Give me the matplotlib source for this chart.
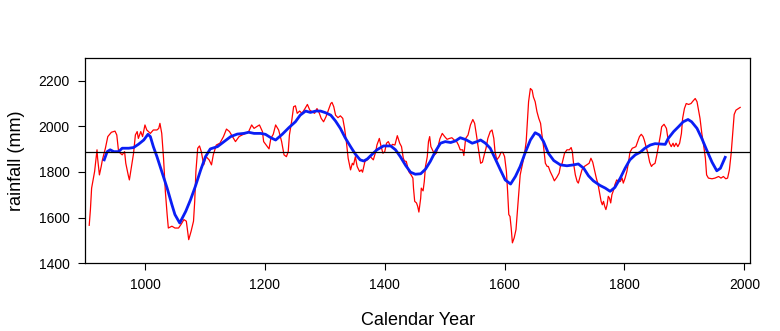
import matplotlib.pyplot as plt

plt.rcParams['font.family'] = ['Liberation Sans', 'DejaVu Sans']

# reconstructed rainfall, short smoothing (red)
raw_years = [907, 909, 911, 916, 920, 921, 924, 927, 929, 934, 938, 944, 950, 953, 956,
             962, 966, 968, 972, 974, 977, 981, 984, 987, 989, 993, 996, 1000, 1003, 1009,
             1014, 1020, 1023, 1025, 1028, 1031, 1034, 1037, 1039, 1045, 1050, 1056, 1060,
             1065, 1069, 1073, 1077, 1081, 1083, 1085, 1088, 1091, 1094, 1098, 1102, 1107,
             1111, 1114, 1119, 1125, 1131, 1136, 1141, 1146, 1151, 1157, 1162, 1168, 1173,
             1178, 1182, 1186, 1191, 1196, 1198, 1203, 1207, 1210, 1214, 1218, 1223, 1228,
             1232, 1236, 1239, 1241, 1245, 1248, 1251, 1254, 1258, 1262, 1267, 1271, 1275,
             1279, 1283, 1287, 1291, 1294, 1298, 1302, 1306, 1310, 1312, 1315, 1318, 1322,
             1326, 1330, 1333, 1336, 1339, 1343, 1346, 1348, 1351, 1354, 1358, 1361, 1363,
             1367, 1371, 1376, 1381, 1385, 1387, 1391, 1394, 1397, 1400, 1403, 1406, 1410,
             1413, 1417, 1421, 1425, 1428, 1431, 1433, 1436, 1440, 1444, 1447, 1448, 1450,
             1453, 1455, 1457, 1460, 1461, 1464, 1466, 1468, 1471, 1473, 1475, 1477, 1481,
             1483, 1486, 1489, 1492, 1496, 1500, 1504, 1508, 1512, 1516, 1520, 1523, 1526,
             1530, 1532, 1535, 1539, 1543, 1547, 1550, 1553, 1557, 1560, 1563, 1566, 1569,
             1572, 1576, 1579, 1582, 1584, 1587, 1591, 1594, 1597, 1600, 1603, 1605, 1607,
             1609, 1611, 1613, 1616, 1619, 1621, 1623, 1626, 1630, 1633, 1636, 1638, 1640,
             1643, 1646, 1648, 1651, 1654, 1657, 1660, 1662, 1665, 1668, 1671, 1673, 1676,
             1680, 1683, 1687, 1691, 1693, 1696, 1700, 1704, 1708, 1711, 1713, 1715, 1718,
             1721, 1723, 1726, 1729, 1733, 1737, 1741, 1744, 1747, 1750, 1753, 1756, 1758,
             1761, 1763, 1765, 1767, 1769, 1771, 1773, 1775, 1777, 1779, 1782, 1784, 1787,
             1790, 1793, 1796, 1798, 1801, 1804, 1807, 1809, 1813, 1816, 1819, 1822, 1825,
             1828, 1831, 1833, 1836, 1839, 1842, 1845, 1847, 1851, 1854, 1857, 1860, 1862,
             1866, 1870, 1872, 1875, 1878, 1881, 1883, 1886, 1889, 1892, 1895, 1897, 1900,
             1903, 1907, 1911, 1914, 1918, 1921, 1923, 1926, 1929, 1932, 1935, 1937, 1940,
             1946, 1951, 1957, 1961, 1965, 1969, 1972, 1975, 1978, 1981, 1983, 1986, 1990,
             1993]
raw_mm = [1566, 1635, 1729, 1802, 1897, 1860, 1787, 1824, 1853, 1904, 1955, 1974, 1979, 1962,
          1889, 1875, 1889, 1838, 1787, 1765, 1816, 1882, 1962, 1977, 1947, 1977, 1955, 2006,
          1984, 1969, 1984, 1984, 1991, 2013, 1969, 1860, 1715, 1613, 1554, 1562, 1554, 1554,
          1569, 1591, 1584, 1503, 1540, 1584, 1671, 1802, 1904, 1914, 1889, 1831, 1867, 1853,
          1831, 1875, 1918, 1926, 1955, 1988, 1977, 1955, 1933, 1955, 1962, 1969, 1977, 2006,
          1991, 1998, 2006, 1977, 1933, 1915, 1901, 1947, 1965, 2006, 1984, 1933, 1875, 1867,
          1889, 1962, 2027, 2086, 2090, 2057, 2067, 2057, 2078, 2096, 2071, 2064, 2057, 2078,
          2057, 2035, 2020, 2042, 2071, 2100, 2105, 2086, 2049, 2038, 2046, 2035, 1991, 1933,
          1860, 1809, 1838, 1831, 1867, 1824, 1802, 1809, 1799, 1846, 1853, 1867, 1853, 1889,
          1918, 1947, 1911, 1882, 1889, 1926, 1933, 1911, 1921, 1918, 1959, 1926, 1911, 1860,
          1848, 1846, 1802, 1787, 1773, 1729, 1671, 1664, 1649, 1624, 1685, 1729, 1717, 1758,
          1824, 1867, 1933, 1955, 1911, 1889, 1875, 1882, 1911, 1945, 1969, 1955, 1943, 1947,
          1950, 1940, 1933, 1918, 1897, 1897, 1872, 1947, 1962, 2006, 2030, 2013, 1962, 1889,
          1838, 1843, 1875, 1904, 1947, 1977, 1984, 1947, 1889, 1853, 1867, 1886, 1886, 1867,
          1802, 1715, 1613, 1605, 1554, 1489, 1511, 1547, 1613, 1685, 1787, 1838, 1875, 1933,
          2020, 2108, 2166, 2158, 2129, 2108, 2064, 2035, 2013, 1969, 1911, 1838, 1824, 1824,
          1802, 1780, 1761, 1776, 1795, 1824, 1838, 1882, 1897, 1897, 1907, 1889, 1838, 1787,
          1758, 1751, 1780, 1809, 1824, 1831, 1838, 1860, 1843, 1809, 1773, 1744, 1715, 1671,
          1656, 1671, 1649, 1635, 1656, 1693, 1685, 1664, 1700, 1722, 1744, 1765, 1758, 1758,
          1773, 1751, 1773, 1802, 1846, 1886, 1904, 1907, 1911, 1933, 1955, 1965, 1955, 1940,
          1911, 1882, 1843, 1824, 1831, 1838, 1875, 1918, 1962, 1998, 2009, 1991, 1955, 1926,
          1911, 1926, 1911, 1926, 1911, 1926, 1969, 2035, 2078, 2100, 2096, 2100, 2110, 2122,
          2108, 2078, 2035, 1969, 1918, 1860, 1787, 1773, 1770, 1773, 1780, 1773, 1780, 1770,
          1773, 1809, 1882, 1984, 2052, 2071, 2078, 2083]

# long-term smoothed curve (blue)
smooth_years = [932, 937, 942, 948, 956, 962, 973, 981, 989, 998, 1005, 1009, 1014, 1020,
                1028, 1037, 1045, 1050, 1058, 1068, 1076, 1084, 1093, 1101, 1109, 1121, 1132,
                1143, 1154, 1165, 1173, 1182, 1193, 1201, 1210, 1218, 1229, 1240, 1251, 1259,
                1268, 1276, 1285, 1293, 1301, 1310, 1318, 1326, 1334, 1343, 1351, 1359, 1365,
                1371, 1376, 1387, 1398, 1410, 1418, 1426, 1435, 1443, 1451, 1460, 1468, 1476,
                1485, 1493, 1501, 1510, 1518, 1526, 1535, 1546, 1554, 1560, 1568, 1576, 1584,
                1593, 1601, 1610, 1618, 1626, 1634, 1643, 1651, 1658, 1665, 1673, 1682, 1693,
                1704, 1715, 1723, 1732, 1740, 1748, 1759, 1768, 1776, 1784, 1793, 1801, 1809,
                1818, 1826, 1834, 1843, 1851, 1868, 1873, 1882, 1890, 1898, 1906, 1912, 1921,
                1929, 1937, 1946, 1954, 1960, 1968]
smooth_mm = [1853, 1889, 1897, 1889, 1889, 1904, 1904, 1907, 1921, 1940, 1965, 1955, 1911,
             1867, 1802, 1729, 1656, 1613, 1576, 1627, 1678, 1736, 1809, 1867, 1901, 1911,
             1933, 1955, 1966, 1969, 1974, 1969, 1969, 1965, 1950, 1940, 1965, 1994, 2020,
             2049, 2067, 2061, 2067, 2067, 2060, 2049, 2023, 1991, 1950, 1911, 1878, 1853,
             1848, 1857, 1870, 1897, 1914, 1914, 1897, 1867, 1828, 1799, 1790, 1792, 1812,
             1846, 1892, 1926, 1933, 1929, 1936, 1950, 1942, 1926, 1933, 1940, 1926, 1904,
             1860, 1809, 1765, 1747, 1780, 1824, 1882, 1940, 1972, 1962, 1933, 1882, 1850,
             1831, 1827, 1831, 1835, 1816, 1783, 1761, 1741, 1729, 1715, 1732, 1773, 1816,
             1853, 1875, 1886, 1904, 1918, 1924, 1921, 1947, 1977, 1998, 2020, 2030, 2020,
             1991, 1947, 1897, 1843, 1805, 1816, 1864]

long_term_mean = 1886

fig = plt.figure(figsize=(7.8, 3.31), dpi=100)
ax = fig.add_axes([0.109, 0.205, 0.853, 0.62])

ax.plot(raw_years, raw_mm, color='#ff0000', lw=0.9)
ax.plot(smooth_years, smooth_mm, color='#0a1ef5', lw=2.0)
ax.axhline(long_term_mean, color='black', lw=0.9)

ax.set_xlim(900, 2010)
ax.set_ylim(1400, 2300)
ax.set_xticks([1000, 1200, 1400, 1600, 1800, 2000])
ax.set_yticks([1400, 1600, 1800, 2000, 2200])
ax.tick_params(direction='out', length=5, width=0.8, labelsize=10, pad=6)
for s in ax.spines.values():
    s.set_linewidth(0.9)

ax.set_xlabel('Calendar Year', fontsize=13, labelpad=14)
ax.set_ylabel('rainfall (mm)', fontsize=13, labelpad=10)

fig.savefig('out.png', dpi=100)
